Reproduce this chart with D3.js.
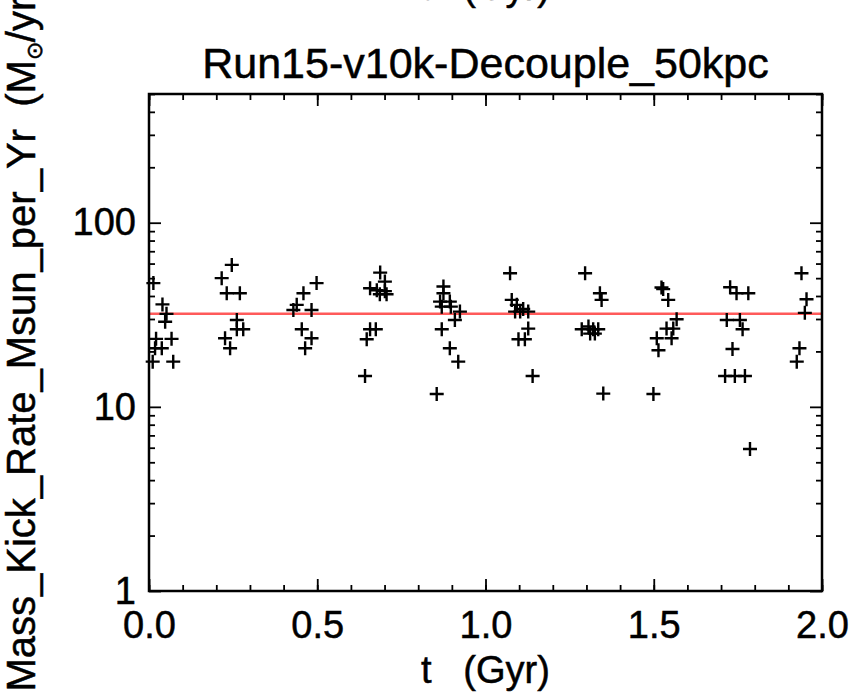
<!DOCTYPE html>
<html>
<head>
<meta charset="utf-8">
<script src="https://cdn.jsdelivr.net/npm/d3@7"></script>
<style>
  body { margin: 0; background: #fff; }
  text { font-family: "Liberation Sans", Arial, Helvetica, sans-serif; fill: #000; stroke: #000; stroke-width: 0.5px; white-space: pre; }
</style>
</head>
<body>
<svg width="852" height="698"></svg>
<script>
(() => {

    var width = 852;
    var height = 698;
    var margin = { top: 94, bottom: 107, left: 149, right: 30 };

    // time of each kick sample (Gyr)
    var tValues = [
        0.013, 0.040, 0.052, 0.048, 0.067, 0.021, 0.018, 0.038, 0.011, 0.072,
        0.246, 0.216, 0.231, 0.270, 0.261, 0.280, 0.261, 0.226, 0.241,
        0.498, 0.459, 0.439, 0.429, 0.483, 0.454, 0.483, 0.464,
        0.687, 0.701, 0.657, 0.677, 0.701, 0.686, 0.706, 0.657, 0.674, 0.647, 0.642,
        0.875, 0.875, 0.865, 0.894, 0.870, 0.897, 0.924, 0.909, 0.870, 0.894, 0.919, 0.855,
        1.073, 1.078, 1.093, 1.112, 1.103, 1.127, 1.088, 1.127, 1.098, 1.117, 1.140,
        1.296, 1.340, 1.345, 1.286, 1.306, 1.320, 1.335, 1.311, 1.325, 1.350,
        1.523, 1.528, 1.543, 1.568, 1.538, 1.558, 1.509, 1.553, 1.514, 1.499,
        1.727, 1.746, 1.781, 1.717, 1.756, 1.764, 1.734, 1.712, 1.741, 1.771, 1.786,
        1.939, 1.954, 1.949, 1.933, 1.925
    ];

    // mass kick rate (Msun/yr)
    var rateValues = [
        47, 36, 32, 29, 23.4, 23.4, 20.8, 20.8, 17.6, 17.6,
        59, 50, 41.4, 41.4, 29.6, 26.4, 26.4, 23.6, 20.8,
        47, 41.4, 35.8, 33.6, 33.6, 26.4, 23.6, 20.8,
        53.6, 47.9, 44.1, 43, 42.5, 40.9, 40.9, 26.4, 26.4, 23.3, 14.7,
        45, 41.4, 37.3, 37.3, 35, 35, 32.9, 29.6, 26.4, 20.8, 17.6, 11.75,
        53.2, 38.1, 35.8, 34, 32.9, 32.9, 32.9, 26.6, 23.3, 23.3, 14.7,
        53.2, 41.4, 38.1, 26.4, 27.3, 26.4, 26.4, 25, 25, 11.8,
        44.5, 43.6, 38.1, 29.9, 26.6, 26.6, 23.6, 23.6, 20.3, 11.75,
        44.6, 41.4, 41.4, 29.6, 29.6, 26.4, 20.6, 14.7, 14.7, 14.7, 5.9,
        53.2, 38.4, 32.4, 20.8, 17.6
    ];

    var meanRate = [32];

    var xTicks = [0, 0.5, 1.0, 1.5, 2.0];
    var xTickLabels = ["0.0", "0.5", "1.0", "1.5", "2.0"];
    var xMinorTicks = d3.range(0, 21).map(d => d / 10);
    var yTicks = [1, 10, 100];
    var yTickLabels = ["1", "10", "100"];
    var yMinorTicks = [2, 3, 4, 5, 6, 7, 8, 9, 20, 30, 40, 50, 60, 70, 80, 90, 200, 300, 400, 500];

    var title = "Run15-v10k-Decouple_50kpc";
    var xTitle = "t   (Gyr)";

    var data = tValues.map((t, i) => ({ t: t, rate: rateValues[i] }));

    var x = d3.scaleLinear().domain([0, 2]).range([margin.left, width - margin.right]);
    var y = d3.scaleLog().domain([1, 500]).range([height - margin.bottom, margin.top]);

    var svg = d3.select('svg');

    // leftover axis title from the panel above (clipped by the page edge)
    svg.append("text")
        .attr("x", (x.range()[0] + x.range()[1]) / 2)
        .attr("y", 0)
        .attr("text-anchor", "middle")
        .style("font-size", "38px")
        .text(xTitle);

    // title
    svg.append("text")
        .attr("x", (x.range()[0] + x.range()[1]) / 2)
        .attr("y", 78)
        .attr("text-anchor", "middle")
        .style("font-size", "43px")
        .text(title);

    // mean line
    svg.selectAll(".mean")
        .data(meanRate)
        .enter().append("line")
        .attr("class", "mean")
        .attr("x1", x(0))
        .attr("x2", x(2))
        .attr("y1", d => y(d))
        .attr("y2", d => y(d))
        .attr("stroke", "#ff5a5a")
        .attr("stroke-width", 2.5);

    // plus markers
    svg.selectAll(".dot")
        .data(data)
        .enter().append("path")
        .attr("class", "dot")
        .attr("transform", d => 'translate(' + [x(d.t), y(d.rate)] + ')')
        .attr("d", "M-7,0H7M0,-7V7")
        .attr("stroke", "#000")
        .attr("stroke-width", 2.4)
        .attr("fill", "none");

    function styleAxis(g) {
        g.select(".domain").remove();
        g.selectAll("line").attr("stroke", "#000").attr("stroke-width", 1.8);
        g.selectAll("text").style("font-size", "38px").attr("fill", "#000");
    }

    // bottom
    svg.append("g")
        .attr('transform', 'translate(' + [0, y.range()[0]] + ')')
        .call(d3.axisBottom(x).tickValues(xMinorTicks).tickSize(-6).tickFormat(""))
        .call(styleAxis);
    svg.append("g")
        .attr('transform', 'translate(' + [0, y.range()[0]] + ')')
        .call(d3.axisBottom(x).tickValues(xTicks).tickSize(-12).tickPadding(20)
            .tickFormat((d, i) => xTickLabels[i]))
        .call(styleAxis);

    // top
    svg.append("g")
        .attr('transform', 'translate(' + [0, y.range()[1]] + ')')
        .call(d3.axisTop(x).tickValues(xMinorTicks).tickSize(-6).tickFormat(""))
        .call(styleAxis);
    svg.append("g")
        .attr('transform', 'translate(' + [0, y.range()[1]] + ')')
        .call(d3.axisTop(x).tickValues(xTicks).tickSize(-12).tickFormat(""))
        .call(styleAxis);

    // left
    svg.append("g")
        .attr('transform', 'translate(' + [x.range()[0], 0] + ')')
        .call(d3.axisLeft(y).tickValues(yMinorTicks).tickSize(-6).tickFormat(""))
        .call(styleAxis);
    svg.append("g")
        .attr('transform', 'translate(' + [x.range()[0], 0] + ')')
        .call(d3.axisLeft(y).tickValues(yTicks).tickSize(-12).tickPadding(13)
            .tickFormat((d, i) => yTickLabels[i]))
        .call(styleAxis);

    // right
    svg.append("g")
        .attr('transform', 'translate(' + [x.range()[1], 0] + ')')
        .call(d3.axisRight(y).tickValues(yMinorTicks).tickSize(-6).tickFormat(""))
        .call(styleAxis);
    svg.append("g")
        .attr('transform', 'translate(' + [x.range()[1], 0] + ')')
        .call(d3.axisRight(y).tickValues(yTicks).tickSize(-12).tickFormat(""))
        .call(styleAxis);

    // frame
    svg.append("rect")
        .attr("x", x.range()[0])
        .attr("y", y.range()[1])
        .attr("width", x.range()[1] - x.range()[0])
        .attr("height", y.range()[0] - y.range()[1])
        .attr("fill", "none")
        .attr("stroke", "#000")
        .attr("stroke-width", 2.5);

    // axis titles
    svg.append("text")
        .attr("x", (x.range()[0] + x.range()[1]) / 2)
        .attr("y", 683)
        .attr("text-anchor", "middle")
        .style("font-size", "38px")
        .text(xTitle);

    var yTitle = svg.append("text")
        .attr("transform", 'translate(' + [35, 338] + ') rotate(-90)')
        .attr("text-anchor", "middle")
        .style("font-size", "40px");
    yTitle.append("tspan").text("Mass_Kick_Rate_Msun_per_Yr  (M");
    yTitle.append("tspan").attr("dy", 7).style("font-size", "22px").text("\u2299");
    yTitle.append("tspan").attr("dy", -7).text("/yr)");

})();
</script>
</body>
</html>
